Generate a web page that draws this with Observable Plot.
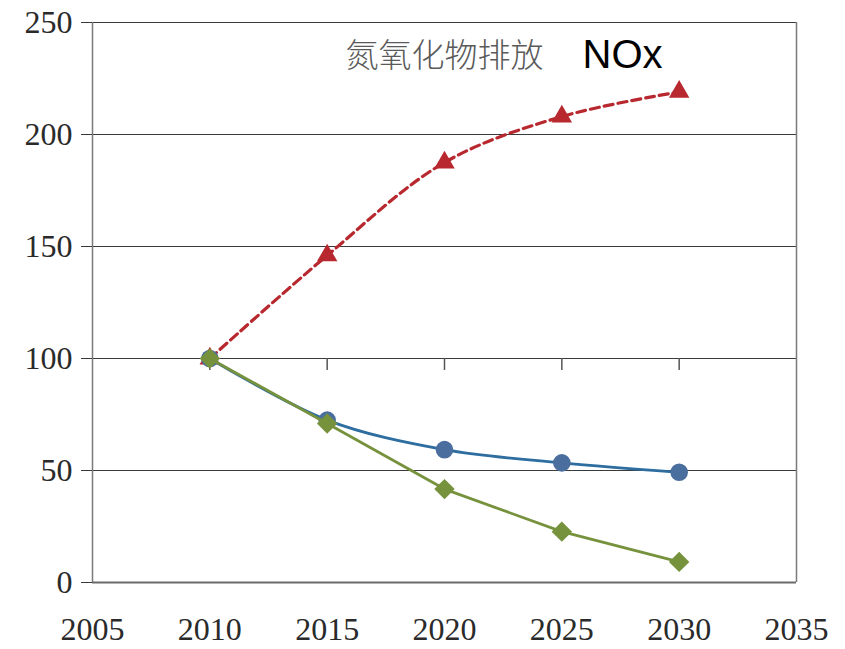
<!DOCTYPE html>
<html>
<head>
<meta charset="utf-8">
<script src="https://cdn.jsdelivr.net/npm/d3@7"></script>
<script src="https://cdn.jsdelivr.net/npm/@observablehq/plot@0.6"></script>
<style>
  html, body { margin: 0; padding: 0; background: #fff; }
  #chart svg { display: block; }
</style>
</head>
<body>
<div id="chart"></div>
<script>
// Years with observations
const years = [2010, 2015, 2020, 2025, 2030];
// Emission index series (2010 = 100)
const noxBaseline = [100, 146, 187.5, 208, 219];
const noxControlled = [100, 72.5, 59.3, 53.4, 49.2];
const noxStrict = [100, 71, 41.7, 22.7, 9.2];
// Axis ticks
const xTicks = [2005, 2010, 2015, 2020, 2025, 2030, 2035];
const yTicks = [0, 50, 100, 150, 200, 250];
const gridLines = [50, 100, 150, 200, 250];
const titleText = "氮氧化物排放";
const titleTag = "NOx";

const rows = (values) => years.map((year, i) => ({year, value: values[i]}));
const red = rows(noxBaseline);
const blue = rows(noxControlled);
const green = rows(noxStrict);

const chart = Plot.plot({
  width: 845,
  height: 649,
  marginLeft: 92,
  marginRight: 49,
  marginTop: 22,
  marginBottom: 67,
  style: {fontFamily: "'Liberation Serif', 'Times New Roman', serif", fontSize: "32px", color: "#222", background: "#fff"},
  x: {domain: [2005, 2035], label: null},
  y: {domain: [0, 250], label: null},
  marks: [
    // horizontal grid
    Plot.ruleY(gridLines, {stroke: "#3a3a3a", strokeWidth: 1.2}),
    // frame sides and baseline
    Plot.ruleX([xTicks[0], xTicks[xTicks.length - 1]], {stroke: "#7a7a7a", strokeWidth: 1.5}),
    Plot.ruleY([0], {stroke: "#6a6a6a", strokeWidth: 2.2}),
    // category ticks hanging from the 100 line
    Plot.ruleX(xTicks.slice(1, -1), {y1: 100, y2: 100, insetBottom: -12, stroke: "#555", strokeWidth: 1.5}),
    Plot.axisY({ticks: yTicks, tickSize: 11, tickPadding: 9, stroke: "#3a3a3a", fill: "#2a2a2a", tickFormat: d => `${d}`}),
    Plot.axisX({ticks: xTicks, tickSize: 0, tickPadding: 35, fill: "#2a2a2a", tickFormat: d => `${d}`}),
    // series
    Plot.line(red, {x: "year", y: "value", stroke: "#b8282f", strokeWidth: 3.2, strokeDasharray: "9,5", curve: "catmull-rom"}),
    Plot.dot(red, {x: "year", y: "value", symbol: "triangle", r: 7.6, fill: "#b8282f", stroke: "none"}),
    Plot.line(blue, {x: "year", y: "value", stroke: "#2d6d9f", strokeWidth: 2.8, curve: "catmull-rom"}),
    Plot.dot(blue, {x: "year", y: "value", symbol: "circle", r: 8.8, fill: "#4a6e9e", stroke: "none"}),
    Plot.line(green, {x: "year", y: "value", stroke: "#77923d", strokeWidth: 2.8}),
    Plot.dot(green, {x: "year", y: "value", symbol: "diamond2", r: 9.2, fill: "#77923d", stroke: "none"}),
    // heading inside the frame
    Plot.text([titleText], {frameAnchor: "top-left", dx: 253, dy: 44, lineAnchor: "bottom", textAnchor: "start",
      fontFamily: "'Noto Sans CJK SC', sans-serif", fontSize: 33, fill: "#5a5a5a", fontWeight: 300}),
    Plot.text([titleTag], {frameAnchor: "top-left", dx: 490, dy: 45, lineAnchor: "bottom", textAnchor: "start",
      fontFamily: "'Liberation Sans', Arial, sans-serif", fontSize: 40, fill: "#000"})
  ]
});
document.getElementById("chart").append(chart);
</script>
</body>
</html>
